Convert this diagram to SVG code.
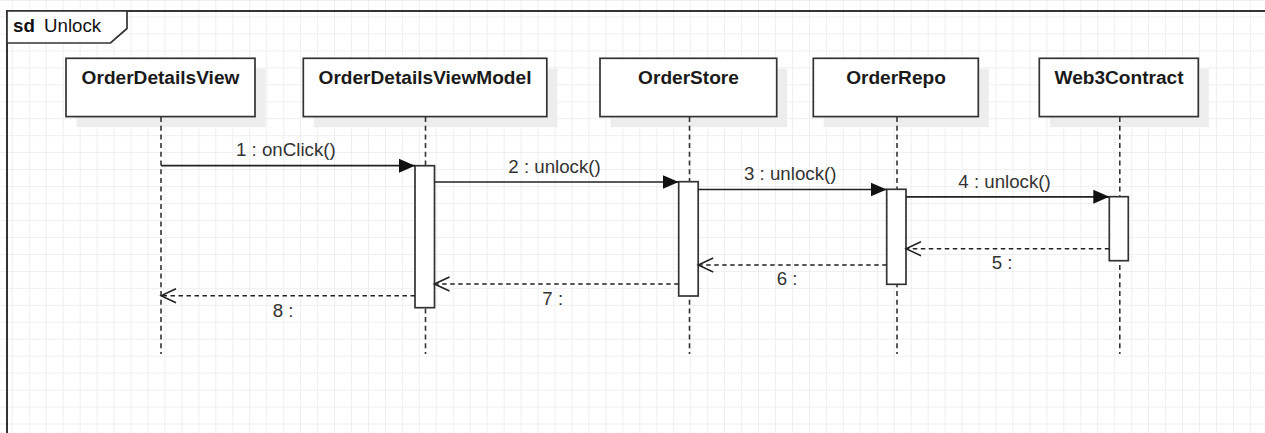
<svg xmlns="http://www.w3.org/2000/svg" width="1265" height="433" viewBox="0 0 1265 433">
  <style>
    .grid { stroke: #efefef; stroke-width: 1; fill: none; }
    .frame { fill: none; stroke: #333; stroke-width: 2; }
    .tab { fill: #fff; stroke: #333; stroke-width: 1.7; }
    .box { fill: #fff; stroke: #333; stroke-width: 1.7; }
    .shadow { fill: #ededed; }
    .life { stroke: #333; stroke-width: 1.6; stroke-dasharray: 5 3.7; fill: none; }
    .act { fill: #fff; stroke: #333; stroke-width: 1.7; }
    .call { stroke: #222; stroke-width: 1.7; fill: none; marker-end: url(#filled); }
    .ret { stroke: #222; stroke-width: 1.4; stroke-dasharray: 4.5 3.5; fill: none; marker-end: url(#open); }
    .name { font-family: "Liberation Sans", Arial, sans-serif; font-size: 19.1px; font-weight: bold; fill: #1a1a1a; text-anchor: middle; }
    .msg { font-family: "Liberation Sans", Arial, sans-serif; font-size: 18.7px; fill: #333; }
  </style>
  <defs>
    <marker id="filled" markerUnits="userSpaceOnUse" markerWidth="18" markerHeight="16" refX="16" refY="8" orient="auto">
      <path d="M0 1 L16 8 L0 15 Z" fill="#111"/>
    </marker>
    <marker id="open" markerUnits="userSpaceOnUse" markerWidth="18" markerHeight="18" refX="16" refY="9" orient="auto">
      <path d="M1 2 L16 9 L1 16" fill="none" stroke="#222" stroke-width="1.5"/>
    </marker>
  </defs>

  <!-- canvas and grid -->
  <rect width="1265" height="433" fill="#fff"/>
  <path class="grid" d="M12.3 0V433M29.3 0V433M46.2 0V433M63.2 0V433M80.1 0V433M97.1 0V433M114.1 0V433M131 0V433M148 0V433M164.9 0V433M181.9 0V433M198.9 0V433M215.8 0V433M232.8 0V433M249.7 0V433M266.7 0V433M283.7 0V433M300.6 0V433M317.6 0V433M334.5 0V433M351.5 0V433M368.5 0V433M385.4 0V433M402.4 0V433M419.3 0V433M436.3 0V433M453.3 0V433M470.2 0V433M487.2 0V433M504.1 0V433M521.1 0V433M538.1 0V433M555 0V433M572 0V433M588.9 0V433M605.9 0V433M622.9 0V433M639.8 0V433M656.8 0V433M673.7 0V433M690.7 0V433M707.7 0V433M724.6 0V433M741.6 0V433M758.5 0V433M775.5 0V433M792.5 0V433M809.4 0V433M826.4 0V433M843.3 0V433M860.3 0V433M877.3 0V433M894.2 0V433M911.2 0V433M928.1 0V433M945.1 0V433M962.1 0V433M979 0V433M996 0V433M1012.9 0V433M1029.9 0V433M1046.9 0V433M1063.8 0V433M1080.8 0V433M1097.7 0V433M1114.7 0V433M1131.7 0V433M1148.6 0V433M1165.6 0V433M1182.5 0V433M1199.5 0V433M1216.5 0V433M1233.4 0V433M1250.4 0V433"/>
  <path class="grid" d="M0 0.5H1265M0 17H1265M0 33.9H1265M0 50.9H1265M0 67.8H1265M0 84.8H1265M0 101.8H1265M0 118.7H1265M0 135.7H1265M0 152.6H1265M0 169.6H1265M0 186.6H1265M0 203.5H1265M0 220.5H1265M0 237.4H1265M0 254.4H1265M0 271.4H1265M0 288.3H1265M0 305.3H1265M0 322.2H1265M0 339.2H1265M0 356.2H1265M0 373.1H1265M0 390.1H1265M0 407H1265M0 424H1265"/>

  <!-- interaction frame (runs past the right and bottom edges) -->
  <g id="frame">
    <path class="frame" d="M7 440 V11 H1270"/>
    <path class="tab" d="M7 11 H127 V28.5 L110.5 43 H7 Z"/>
    <text x="13" y="32.3" font-family="Liberation Sans, Arial, sans-serif" font-size="18.7" fill="#111"><tspan font-weight="bold">sd</tspan><tspan x="44">Unlock</tspan></text>
  </g>

  <!-- lifelines -->
  <g id="orderDetailsView">
    <rect class="shadow" x="76.5" y="68.8" width="189" height="58.3"/>
    <rect class="box" x="66" y="58.3" width="189" height="58.3"/>
    <text class="name" x="160.5" y="84">OrderDetailsView</text>
    <line class="life" x1="161" y1="117" x2="161" y2="354"/>
  </g>

  <g id="orderDetailsViewModel">
    <rect class="shadow" x="313.8" y="68.8" width="243.5" height="58.3"/>
    <rect class="box" x="303.3" y="58.3" width="243.5" height="58.3"/>
    <text class="name" x="425" y="84">OrderDetailsViewModel</text>
    <line class="life" x1="425.5" y1="117" x2="425.5" y2="354"/>
  </g>

  <g id="orderStore">
    <rect class="shadow" x="610.5" y="68.8" width="176.7" height="58.3"/>
    <rect class="box" x="600" y="58.3" width="176.7" height="58.3"/>
    <text class="name" x="688.5" y="84">OrderStore</text>
    <line class="life" x1="689.5" y1="117" x2="689.5" y2="354"/>
  </g>

  <g id="orderRepo">
    <rect class="shadow" x="823.8" y="68.8" width="165" height="58.3"/>
    <rect class="box" x="813.3" y="58.3" width="165" height="58.3"/>
    <text class="name" x="896" y="84">OrderRepo</text>
    <line class="life" x1="897" y1="117" x2="897" y2="354"/>
  </g>

  <g id="web3Contract">
    <rect class="shadow" x="1049.8" y="68.8" width="159" height="58.3"/>
    <rect class="box" x="1039.3" y="58.3" width="159" height="58.3"/>
    <text class="name" x="1119" y="84">Web3Contract</text>
    <line class="life" x1="1119.8" y1="117" x2="1119.8" y2="354"/>
  </g>

  <!-- activation bars -->
  <g id="activations">
    <rect class="act" x="415" y="165.7" width="19.5" height="142"/>
    <rect class="act" x="678.7" y="181.7" width="19.5" height="114.3"/>
    <rect class="act" x="886.7" y="189.3" width="19.3" height="95"/>
    <rect class="act" x="1109.3" y="196.7" width="19" height="64"/>
  </g>

  <!-- messages -->
  <g id="connectors">
    <line class="call" x1="161" y1="165.7" x2="415" y2="165.7"/>
    <line class="call" x1="434.5" y1="182" x2="678.7" y2="182"/>
    <line class="call" x1="698.2" y1="189.5" x2="886.7" y2="189.5"/>
    <line class="call" x1="906" y1="196.8" x2="1109.3" y2="196.8"/>

    <line class="ret" x1="1109.3" y1="248.7" x2="906" y2="248.7"/>
    <line class="ret" x1="886.7" y1="265" x2="698.2" y2="265"/>
    <line class="ret" x1="678.7" y1="284" x2="434.5" y2="284"/>
    <line class="ret" x1="415" y1="295.7" x2="161" y2="295.7"/>
  </g>

  <!-- message labels -->
  <g id="labels">
    <text class="msg" x="236" y="156">1 : onClick()</text>
    <text class="msg" x="508.3" y="173">2 : unlock()</text>
    <text class="msg" x="744" y="180.3">3 : unlock()</text>
    <text class="msg" x="958.3" y="187.5">4 : unlock()</text>
    <text class="msg" x="991.7" y="268.5">5 :</text>
    <text class="msg" x="776.7" y="285">6 :</text>
    <text class="msg" x="542.3" y="305">7 :</text>
    <text class="msg" x="272.7" y="316.5">8 :</text>
  </g>
</svg>
